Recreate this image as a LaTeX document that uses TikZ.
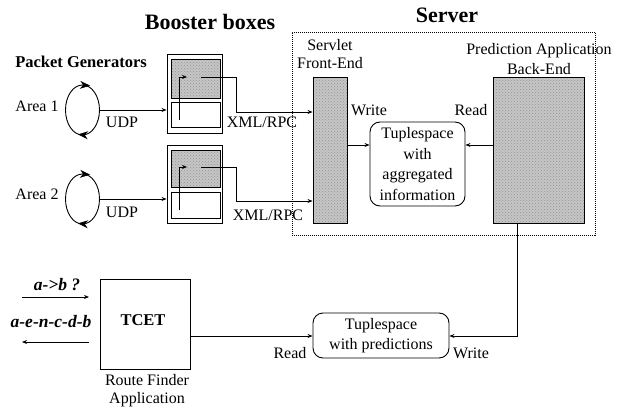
\documentclass[tikz,border=0pt]{standalone}
\usepackage{fontspec}
\setmainfont{Liberation Serif}
\usetikzlibrary{shapes.geometric,arrows.meta,patterns}

\tikzset{
  lbl/.style={inner sep=0pt, font=\fontsize{16}{19}\selectfont},
  title/.style={inner sep=0pt, font=\fontsize{22}{26}\selectfont\bfseries},
  frame/.style={draw, line width=0.9pt, inner sep=0pt},
  shaded/.style={frame, preaction={fill=gray!45}, pattern=crosshatch dots, pattern color=gray!85},
  blank/.style={frame, fill=white},
  gen/.style={draw, ellipse, line width=0.9pt, minimum width=34pt, minimum height=50pt, inner sep=0pt},
  tuple/.style={draw, line width=0.9pt, rounded corners=10pt, inner sep=0pt, align=center,
                font=\fontsize{16}{20.5}\selectfont},
  conn/.style={line width=0.8pt, -{Stealth[length=5pt,width=4pt]}},
  turn/.style={line width=0.8pt, -{Stealth[length=10pt,width=8pt]}},
}

\begin{document}
\begin{tikzpicture}[x=1pt, y=-1pt]
\useasboundingbox (0,0) rectangle (624,412);

% titles
\node[title] (tboost) at (210,22) {Booster boxes};
\node[title] (tserv) at (447,15) {Server};
\node[lbl, font=\fontsize{16.5}{19}\selectfont\bfseries] (tgen) at (81,62) {Packet Generators};

% server boundary
\node[draw, line width=0.7pt, dash pattern=on 1pt off 1pt, minimum width=303pt, minimum height=203pt, inner sep=0pt] (server) at (443.5,133.5) {};

% packet generators
\node[gen] (gen1) at (82.5,110) {};
\node[gen] (gen2) at (82.5,199) {};
\draw[turn] (82,85) -- (90,85.6);
\draw[turn] (85,135) -- (78,134.4);
\draw[turn] (82,174) -- (90,174.6);
\draw[turn] (85,224) -- (78,223.4);
\node[lbl] (area1) at (37,106) {Area 1};
\node[lbl] (area2) at (37,194) {Area 2};

% booster boxes
\node[frame, minimum width=55pt, minimum height=79pt] (box1) at (194.5,93.5) {};
\node[shaded, minimum width=49pt, minimum height=39pt] (grey1) at (195.5,78.5) {};
\node[blank, minimum width=49pt, minimum height=25pt] (white1) at (195.5,114.5) {};
\node[frame, minimum width=55pt, minimum height=78pt] (box2) at (194.5,184) {};
\node[shaded, minimum width=49pt, minimum height=37pt] (grey2) at (195.5,168.5) {};
\node[blank, minimum width=49pt, minimum height=26pt] (white2) at (195.5,205) {};

% server parts
\node[shaded, minimum width=34pt, minimum height=146pt] (servlet) at (330,150) {};
\node[shaded, minimum width=91pt, minimum height=146pt] (backend) at (538.5,150) {};
\node[tuple, minimum width=95pt, minimum height=84pt] (tuple1) at (417.5,164)
  {Tuplespace\\with\\aggregated\\information};
\node[tuple, minimum width=136pt, minimum height=45pt] (tuple2) at (381,335.5)
  {Tuplespace\\with predictions};

% route finder
\node[frame, minimum width=90pt, minimum height=90pt] (tcet) at (145,324) {};
\node[lbl, font=\fontsize{16.5}{19}\selectfont\bfseries] (tcettxt) at (143,320) {TCET};
\node[lbl, align=center, font=\fontsize{16}{18}\selectfont] (rf) at (147,391) {Route Finder\\Application};

% labels
\node[lbl] (udp1) at (122,122) {UDP};
\node[lbl] (udp2) at (122,212) {UDP};
\node[lbl] (xml1) at (262,122) {XML/RPC};
\node[lbl] (xml2) at (268,215) {XML/RPC};
\node[lbl, align=center, font=\fontsize{16}{18}\selectfont] (servlab) at (330,54) {Servlet\\Front-End};
\node[lbl, align=center, font=\fontsize{16}{20}\selectfont] (backlab) at (539,59) {Prediction Application\\Back-End};
\node[lbl] (w1) at (369,110) {Write};
\node[lbl] (r1) at (471,110) {Read};
\node[lbl] (r2) at (290,353) {Read};
\node[lbl] (w2) at (471,353) {Write};
\node[lbl, font=\fontsize{17.5}{20}\selectfont\bfseries\itshape] (q) at (57,285) {a->b ?};
\node[lbl, font=\fontsize{17.5}{20}\selectfont\bfseries\itshape] (ans) at (51,322) {a-e-n-c-d-b};

% connector end points
\coordinate (in1) at (179,120);
\coordinate (up1) at (187,77);
\coordinate (out1) at (201,77);
\coordinate (in2) at (179,210);
\coordinate (up2) at (187,167);
\coordinate (out2) at (201,167);
\coordinate (qa) at (22,297);
\coordinate (qb) at (89,297);
\coordinate (aa) at (89,342);
\coordinate (ab) at (22,342);

% connectors
\draw[conn] (gen1.east) -- (box1.west |- gen1.east);
\draw[conn] (gen2.east) -- (box2.west |- gen2.east);
\draw[conn] (in1) |- (up1);
\draw[conn] (in2) |- (up2);
\draw[conn] (out1) -| (236,112) -- (servlet.west |- 0,112);
\draw[conn] (out2) -| (236,201) -- (servlet.west |- 0,201);
\draw[conn] (servlet.east |- 0,145) -- (tuple1.west |- 0,145);
\draw[conn] (backend.west |- 0,145) -- (tuple1.east |- 0,145);
\draw[conn] (backend.south -| 517,0) |- (tuple2.east |- 0,336);
\draw[conn] (tcet.east |- 0,336) -- (tuple2.west |- 0,336);
\draw[conn] (qa) -- (qb);
\draw[conn] (aa) -- (ab);
\end{tikzpicture}
\end{document}
